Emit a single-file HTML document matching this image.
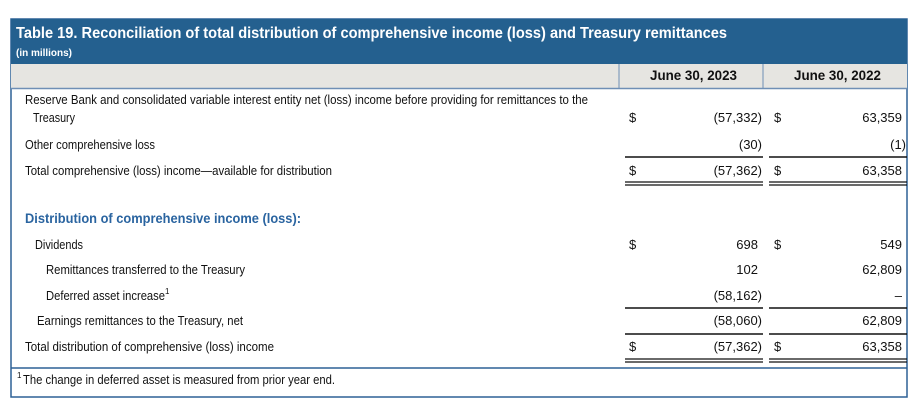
<!DOCTYPE html>
<html><head><meta charset="utf-8"><style>
body{margin:0;background:#fff;width:920px;height:413px;overflow:hidden}
svg{display:block;font-family:"Liberation Sans Narrow","Liberation Sans",sans-serif}
.t{font-size:13px;fill:#111}
.v{font-size:13px;fill:#111;text-anchor:end}
.d{font-size:13px;fill:#111}
</style></head><body>
<svg width="920" height="413" viewBox="0 0 920 413">
<rect x="11" y="19" width="896" height="378" fill="#fff" stroke="#2d6196" stroke-width="1.5"/>
<rect x="11" y="19" width="896" height="45" fill="#24608f"/>
<text x="16" y="38" font-size="16" font-weight="bold" fill="#fff" textLength="711" lengthAdjust="spacingAndGlyphs">Table 19. Reconciliation of total distribution of comprehensive income (loss) and Treasury remittances</text>
<text x="16" y="56" font-size="10" font-weight="bold" fill="#fff" textLength="56" lengthAdjust="spacingAndGlyphs">(in millions)</text>
<rect x="11" y="64" width="896" height="25" fill="#e6e5e1"/>
<line x1="11" y1="88.5" x2="907" y2="88.5" stroke="#6f8fb5" stroke-width="1.5"/>
<line x1="619" y1="64" x2="619" y2="89" stroke="#6f8fb5"/>
<line x1="763" y1="64" x2="763" y2="89" stroke="#6f8fb5"/>
<text x="650" y="80" font-size="14" font-weight="bold" fill="#111" textLength="87" lengthAdjust="spacingAndGlyphs">June 30, 2023</text>
<text x="794" y="80" font-size="14" font-weight="bold" fill="#111" textLength="87" lengthAdjust="spacingAndGlyphs">June 30, 2022</text>

<g>
<text class="t" x="25" y="104" textLength="563" lengthAdjust="spacingAndGlyphs">Reserve Bank and consolidated variable interest entity net (loss) income before providing for remittances to the</text>
<text class="t" x="33" y="122" textLength="42" lengthAdjust="spacingAndGlyphs">Treasury</text>
<text class="d" x="629" y="122">$</text><text class="v" x="762" y="122">(57,332)</text>
<text class="d" x="774" y="122">$</text><text class="v" x="902" y="122">63,359</text>
</g>
<g>
<text class="t" x="25" y="149" textLength="130" lengthAdjust="spacingAndGlyphs">Other comprehensive loss</text>
<text class="v" x="762" y="149">(30)</text><text class="v" x="906" y="149">(1)</text>
</g>
<line x1="625" y1="157" x2="763" y2="157" stroke="#111" stroke-width="1.5"/>
<line x1="769" y1="157" x2="907" y2="157" stroke="#111" stroke-width="1.5"/>
<g>
<text class="t" x="25" y="175" textLength="307" lengthAdjust="spacingAndGlyphs">Total comprehensive (loss) income—available for distribution</text>
<text class="d" x="629" y="175">$</text><text class="v" x="762" y="175">(57,362)</text>
<text class="d" x="774" y="175">$</text><text class="v" x="902" y="175">63,358</text>
</g>
<g stroke="#111" stroke-width="1.2">
<line x1="625" y1="182" x2="763" y2="182"/><line x1="625" y1="185" x2="763" y2="185"/>
<line x1="769" y1="182" x2="907" y2="182"/><line x1="769" y1="185" x2="907" y2="185"/>
</g>
<text x="25" y="223" font-size="14" font-weight="bold" fill="#2a64a0" textLength="276" lengthAdjust="spacingAndGlyphs">Distribution of comprehensive income (loss):</text>
<g>
<text class="t" x="35" y="249" textLength="48" lengthAdjust="spacingAndGlyphs">Dividends</text>
<text class="d" x="629" y="249">$</text><text class="v" x="758" y="249">698</text>
<text class="d" x="774" y="249">$</text><text class="v" x="902" y="249">549</text>
</g>
<g>
<text class="t" x="46" y="274" textLength="199" lengthAdjust="spacingAndGlyphs">Remittances transferred to the Treasury</text>
<text class="v" x="758" y="274">102</text><text class="v" x="902" y="274">62,809</text>
</g>
<g>
<text class="t" x="46" y="300" textLength="119" lengthAdjust="spacingAndGlyphs">Deferred asset increase</text>
<text x="165" y="294" font-size="8" fill="#111">1</text>
<text class="v" x="762" y="300">(58,162)</text><text class="v" x="902" y="300">–</text>
</g>
<line x1="625" y1="308" x2="763" y2="308" stroke="#111" stroke-width="1.5"/>
<line x1="769" y1="308" x2="907" y2="308" stroke="#111" stroke-width="1.5"/>
<g>
<text class="t" x="37" y="325" textLength="206" lengthAdjust="spacingAndGlyphs">Earnings remittances to the Treasury, net</text>
<text class="v" x="762" y="325">(58,060)</text><text class="v" x="902" y="325">62,809</text>
</g>
<line x1="625" y1="334" x2="763" y2="334" stroke="#111" stroke-width="1.5"/>
<line x1="769" y1="334" x2="907" y2="334" stroke="#111" stroke-width="1.5"/>
<g>
<text class="t" x="25" y="351" textLength="249" lengthAdjust="spacingAndGlyphs">Total distribution of comprehensive (loss) income</text>
<text class="d" x="629" y="351">$</text><text class="v" x="762" y="351">(57,362)</text>
<text class="d" x="774" y="351">$</text><text class="v" x="902" y="351">63,358</text>
</g>
<g stroke="#111" stroke-width="1.2">
<line x1="625" y1="359" x2="763" y2="359"/><line x1="625" y1="362" x2="763" y2="362"/>
<line x1="769" y1="359" x2="907" y2="359"/><line x1="769" y1="362" x2="907" y2="362"/>
</g>
<line x1="11" y1="368" x2="907" y2="368" stroke="#2d6196" stroke-width="1.5"/>
<g>
<text x="17" y="378" font-size="8" fill="#111">1</text>
<text class="t" x="23" y="384" textLength="312" lengthAdjust="spacingAndGlyphs">The change in deferred asset is measured from prior year end.</text>
</g>
</svg>
</body></html>
